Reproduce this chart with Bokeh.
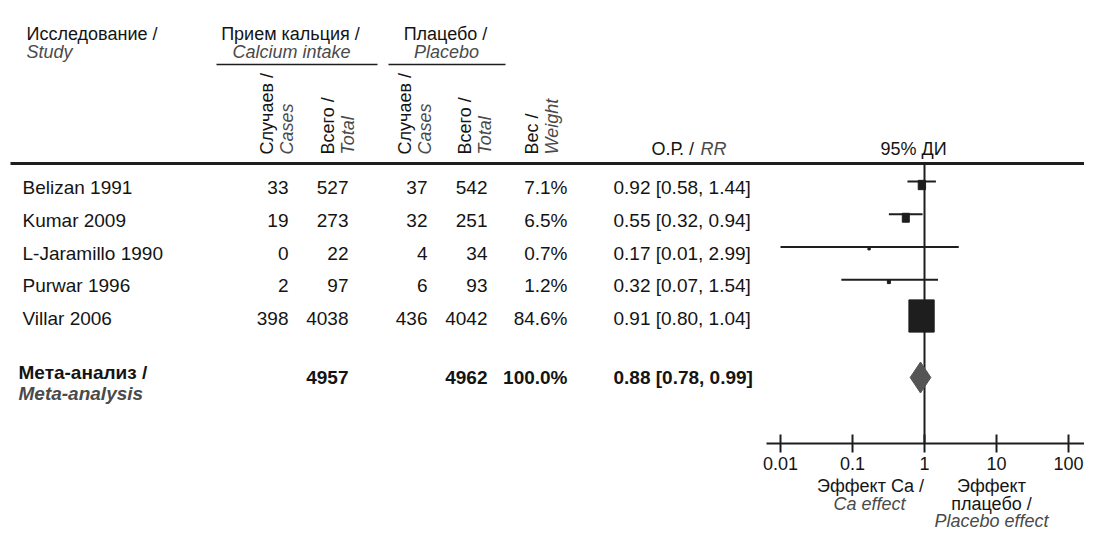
import math
from bokeh.plotting import figure
from bokeh.models import (ColumnDataSource, Range1d, LogScale, LogAxis, FixedTicker,
                          CustomJSTickFormatter)
from bokeh.core.properties import value
from bokeh.embed import file_html
from bokeh.resources import INLINE

# ---------------- data ----------------
studies = ["Belizan 1991", "Kumar 2009", "L-Jaramillo 1990", "Purwar 1996", "Villar 2006"]
ca_cases = [33, 19, 0, 2, 398]
ca_total = [527, 273, 22, 97, 4038]
pl_cases = [37, 32, 4, 6, 436]
pl_total = [542, 251, 34, 93, 4042]
weight = [7.1, 6.5, 0.7, 1.2, 84.6]
rr = [0.92, 0.55, 0.17, 0.32, 0.91]
rr_lo = [0.58, 0.32, 0.01, 0.07, 0.80]
rr_hi = [1.44, 0.94, 2.99, 1.54, 1.04]

meta_ca_total = 4957
meta_pl_total = 4962
meta_weight = 100.0
meta_rr = 0.88
meta_lo = 0.78
meta_hi = 0.99

axis_ticks = [0.01, 0.1, 1, 10, 100]

# ---------------- layout ----------------
W, H = 1084, 532
X0, Y0 = 0, 0
X_ONE = 924.0      # x of RR = 1
DEC = 72.0         # pixels per decade
FONT = "Liberation Sans"
BLACK = "#141414"
GRAY = "#4a4a4a"
DARK = "#1e1e1e"
TS = "19px"   # table text size
HS = "18px"   # header text size

log_start = 10 ** ((X0 - X_ONE) / DEC)
log_end = 10 ** ((X0 + W - X_ONE) / DEC)

p = figure(width=W, height=H, output_backend="svg", toolbar_location=None,
           x_range=Range1d(X0, X0 + W), y_range=Range1d(Y0 + H, Y0),
           x_axis_type=None, y_axis_type=None, min_border=0,
           extra_x_ranges={"log": Range1d(log_start, log_end)},
           extra_x_scales={"log": LogScale()})
p.outline_line_color = None
p.background_fill_color = "white"
p.border_fill_color = "white"


def txt(x, y, texts, align="left", color=BLACK, style="normal", size=TS,
        angle=0.0, baseline="middle"):
    src = ColumnDataSource(dict(x=list(x), y=list(y), text=list(texts)))
    p.text(x="x", y="y", text="text", source=src, text_align=align,
           text_baseline=baseline, text_color=color, text_font=value(FONT),
           text_font_size=size, text_font_style=style, angle=angle)


# rows
row0, step = 187.0, 32.75
row_y = [row0 + i * step for i in range(len(studies))]
meta_y = 377.0

# ---------------- lines ----------------
# header rule
p.segment(x0=[10], x1=[X0 + W], y0=[163], y1=[163], line_width=3, line_color=DARK)
# group underlines
p.segment(x0=[216, 388], x1=[377, 505], y0=[64, 64], y1=[64, 64],
          line_width=1.5, line_color=DARK)
# reference line at RR = 1
p.segment(x0=[1], x1=[1], y0=[163], y1=[443], x_range_name="log",
          line_width=2, line_color=DARK)

# confidence intervals
line_y = [y - 6 for y in row_y]
p.segment(x0=rr_lo, x1=rr_hi, y0=line_y, y1=line_y, x_range_name="log",
          line_width=2.2, line_color=DARK)
# weight boxes
box_w = [2.75 * math.sqrt(w) for w in weight]
box_h = [3.5 * math.sqrt(w) for w in weight]
box_y = [ly + min(h / 2.0, 3.5) for ly, h in zip(line_y, box_h)]
p.rect(x=rr, y=box_y, width=box_w, height=box_h,
       width_units="screen", height_units="screen", x_range_name="log",
       fill_color=DARK, line_color=DARK)
# meta-analysis diamond
p.scatter(x=[meta_rr], y=[meta_y], marker="diamond", size=31, x_range_name="log",
          fill_color="#555555", line_color="#555555")

# axis
ax = LogAxis(x_range_name="log", ticker=FixedTicker(ticks=axis_ticks),
             formatter=CustomJSTickFormatter(code="return tick.toString()"),
             fixed_location=443,
             bounds=(10 ** ((766 - X_ONE) / DEC), log_end))
ax.axis_line_width = 2
ax.axis_line_color = DARK
ax.major_tick_in = 9
ax.major_tick_out = 9
ax.major_tick_line_width = 2
ax.major_tick_line_color = DARK
ax.minor_tick_line_color = None
ax.major_label_text_font = FONT
ax.major_label_text_font_size = HS
ax.major_label_text_color = BLACK
ax.major_label_standoff = 4
p.add_layout(ax, "below")

# ---------------- header texts ----------------
txt([26], [33], ["Исследование /"], size=HS)
txt([26], [51], ["Study"], color=GRAY, style="italic", size=HS)
txt([290], [33], ["Прием кальция /"], align="center", size=HS)
txt([291], [51], ["Calcium intake"], align="center", color=GRAY, style="italic", size=HS)
txt([445], [33], ["Плацебо /"], align="center", size=HS)
txt([446], [51], ["Placebo"], align="center", color=GRAY, style="italic", size=HS)

# rotated column headers
col2_x = [286, 347, 424, 484, 551]
col_ru = ["Случаев /", "Всего /", "Случаев /", "Всего /", "Вес /"]
col_en = ["Cases", "Total", "Cases", "Total", "Weight"]
rot_y = 154
txt([x - 20 for x in col2_x], [rot_y] * 5, col_ru, size=HS, angle=math.pi / 2)
txt(col2_x, [rot_y] * 5, col_en, color=GRAY, style="italic", size=HS, angle=math.pi / 2)

txt([651], [148], ["О.Р. /"], size=HS)
txt([700], [148], ["RR"], color=GRAY, style="italic", size=HS)
txt([913], [148], ["95% ДИ"], align="center", size=HS)

# ---------------- table rows ----------------
txt([22] * 5, row_y, studies)
txt([288] * 5, row_y, [str(v) for v in ca_cases], align="right")
txt([348] * 5, row_y, [str(v) for v in ca_total], align="right")
txt([427] * 5, row_y, [str(v) for v in pl_cases], align="right")
txt([487] * 5, row_y, [str(v) for v in pl_total], align="right")
txt([567] * 5, row_y, [f"{w:.1f}%" for w in weight], align="right")
txt([613] * 5, row_y, [f"{r:.2f} [{a:.2f}, {b:.2f}]" for r, a, b in zip(rr, rr_lo, rr_hi)])

# meta-analysis row
txt([18], [372], ["Мета-анализ /"], style="bold")
txt([18], [393], ["Meta-analysis"], color=GRAY, style="bold italic")
txt([348], [meta_y], [str(meta_ca_total)], align="right", style="bold")
txt([487], [meta_y], [str(meta_pl_total)], align="right", style="bold")
txt([567], [meta_y], [f"{meta_weight:.1f}%"], align="right", style="bold")
txt([613], [meta_y], [f"{meta_rr:.2f} [{meta_lo:.2f}, {meta_hi:.2f}]"], style="bold")

# ---------------- effect labels ----------------
txt([870], [485], ["Эффект Ca /"], align="center", size=HS)
txt([869], [503], ["Ca effect"], align="center", color=GRAY, style="italic", size=HS)
txt([991], [485], ["Эффект"], align="center", size=HS)
txt([991], [503], ["плацебо /"], align="center", size=HS)
txt([991], [520], ["Placebo effect"], align="center", color=GRAY, style="italic", size=HS)

open("out.html", "w").write(file_html(p, INLINE))
